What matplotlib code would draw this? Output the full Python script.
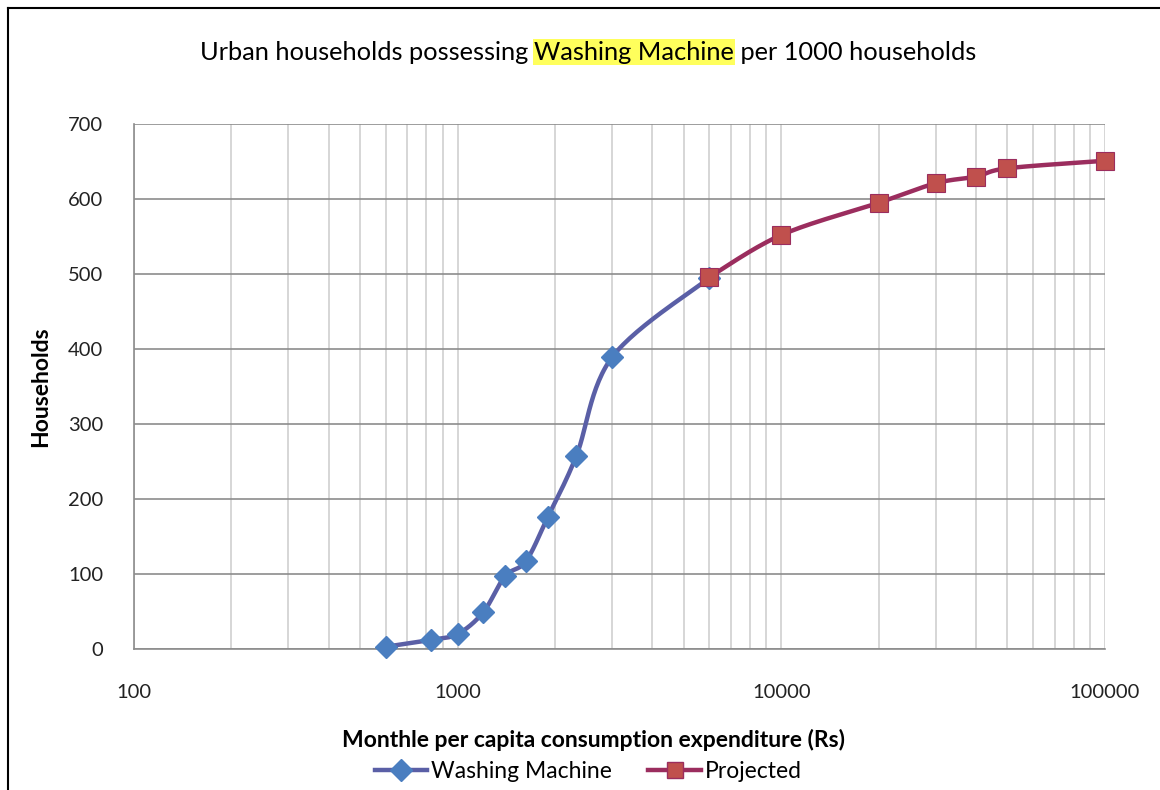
import numpy as np
import matplotlib
matplotlib.use("Agg")
import matplotlib.pyplot as plt
from matplotlib.lines import Line2D

plt.rcParams['font.family'] = ['Lato', 'DejaVu Sans']

# Data
wm_x = [600, 825, 1000, 1200, 1400, 1625, 1900, 2325, 3000, 6000]
wm_y = [3, 12, 20, 49, 97, 117, 176, 257, 389, 495]
proj_x = [6000, 10000, 20000, 30000, 40000, 50000, 100000]
proj_y = [496, 552, 595, 621, 630, 641, 651]

x_ticks = [100, 1000, 10000, 100000]
y_ticks = [0, 100, 200, 300, 400, 500, 600, 700]

wm_line = '#5A5FA6'
wm_mark = '#4A7EC0'
pr_line = '#9B2D5E'
pr_mark = '#C0504D'

# pixel scale of the plot, used so the smoothing looks like Excel's
SX = 323.3
SY = 0.75


def smooth(xs, ys, n=30):
    # Catmull-Rom through the points in (log x, y) screen-like space
    u = np.log10(xs) * SX
    v = np.array(ys, dtype=float) * SY
    pts = np.column_stack([u, v])
    p = np.vstack([pts[0], pts, pts[-1]])
    out = []
    t = np.linspace(0, 1, n)[:, None]
    for i in range(1, len(p) - 2):
        p0, p1, p2, p3 = p[i - 1], p[i], p[i + 1], p[i + 2]
        c1 = p1 + (p2 - p0) / 6
        c2 = p2 - (p3 - p1) / 6
        seg = ((1 - t) ** 3) * p1 + 3 * ((1 - t) ** 2) * t * c1 + 3 * (1 - t) * t ** 2 * c2 + t ** 3 * p2
        out.append(seg if i == 1 else seg[1:])
    out = np.vstack(out)
    return 10 ** (out[:, 0] / SX), out[:, 1] / SY


fig = plt.figure(figsize=(11.6, 7.9), dpi=100)
ax = fig.add_axes([0.1155, 0.1785, 0.837, 0.6645])

ax.set_xscale('log')
ax.set_xlim(100, 100000)
ax.set_ylim(0, 700)

ax.grid(True, which='major', axis='y', color='#8C8C8C', lw=1.2)
ax.grid(True, which='both', axis='x', color='#D0D0D0', lw=1.2)
ax.set_axisbelow(True)

sx, sy = smooth(wm_x, wm_y)
ax.plot(sx, sy, color=wm_line, lw=3.2, solid_capstyle='round', zorder=3)
ax.plot(wm_x, wm_y, ls='none', marker='D', ms=11.5, color=wm_mark,
        mec=wm_mark, zorder=4, clip_on=False)

px, py = smooth(proj_x, proj_y)
ax.plot(px, py, color=pr_line, lw=3.2, solid_capstyle='round', zorder=5)
ax.plot(proj_x, proj_y, ls='none', marker='s', ms=12.5, color=pr_mark,
        mec=pr_line, mew=0.8, zorder=6, clip_on=False)

ax.set_xticks(x_ticks)
ax.set_xticklabels([str(v) for v in x_ticks])
ax.set_yticks(y_ticks)
ax.tick_params(which='both', length=0, labelsize=14.5, colors='#222222')
ax.tick_params(axis='x', pad=25)
ax.tick_params(axis='y', pad=22)

for s in ['top', 'right']:
    ax.spines[s].set_visible(False)
for s in ['left', 'bottom']:
    ax.spines[s].set_color('#8C8C8C')
    ax.spines[s].set_linewidth(1.2)

ax.set_ylabel('Households', fontsize=16.5, fontweight='bold')
ax.yaxis.set_label_coords(-0.0855, 0.5)
ax.set_xlabel('Monthle per capita consumption expenditure (Rs)', fontsize=16.5,
              fontweight='bold')
ax.xaxis.set_label_coords(0.473, -0.153)

handles = [
    Line2D([], [], color=wm_line, lw=3.2, marker='D', ms=11, mfc=wm_mark, mec=wm_mark),
    Line2D([], [], color=pr_line, lw=3.2, marker='s', ms=12, mfc=pr_mark, mec=pr_line),
]
fig.legend(handles, ['Washing Machine', 'Projected'], loc='center',
           bbox_to_anchor=(0.507, 0.023), ncol=2, frameon=False, fontsize=16.5,
           handlelength=2.3, handletextpad=0.15, columnspacing=1.6)

# title with highlighted words
parts = ['Urban households possessing ', 'Washing Machine', ' per 1000 households']
fs_title = 18.3
fig.canvas.draw()
r = fig.canvas.get_renderer()
tmp = [fig.text(0, 0, p, fontsize=fs_title) for p in parts]
widths = [t.get_window_extent(r).width for t in tmp]
for t in tmp:
    t.remove()
total = sum(widths)
x0 = 588 - total / 2
ty = 1 - 52 / 790
for p, w in zip(parts, widths):
    kw = {}
    if p == 'Washing Machine':
        kw['bbox'] = dict(facecolor='#FFFF33', edgecolor='none', pad=1.0, alpha=0.8)
    fig.text(x0 / 1160, ty, p, fontsize=fs_title, va='center', ha='left', **kw)
    x0 += w

# outer frame (top and left visible)
fig.add_artist(Line2D([8 / 1160, 8 / 1160], [0, 1 - 8 / 790], color='black', lw=1.5))
fig.add_artist(Line2D([8 / 1160, 1], [1 - 8 / 790, 1 - 8 / 790], color='black', lw=1.5))

fig.savefig('out.png', dpi=100)
